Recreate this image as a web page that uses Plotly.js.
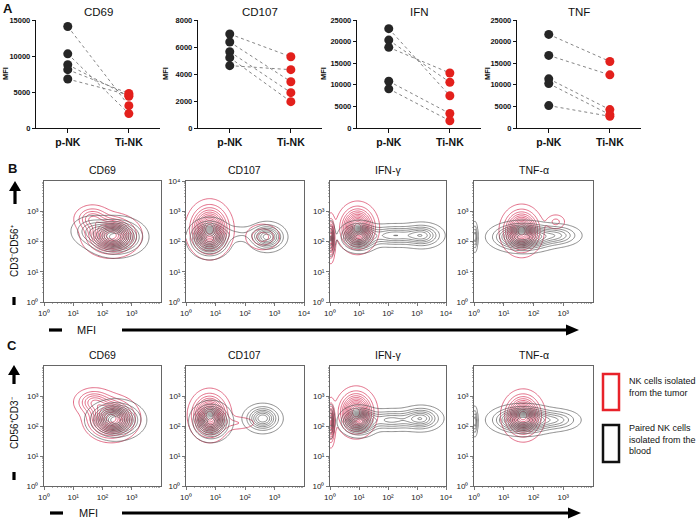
<!DOCTYPE html>
<html>
<head>
<meta charset="utf-8">
<script src="https://cdn.plot.ly/plotly-3.0.1.min.js"></script>
<style>html,body{margin:0;padding:0;background:#fff;}#chart{width:700px;height:524px;}</style>
</head>
<body>
<div id="chart"></div>
<script>
// ---------- Panel A data (MFI) ----------
const groups = ['p-NK', 'Ti-NK'];
const aTitles = ['CD69', 'CD107', 'IFN', 'TNF'];
const pNK_CD69  = [14100, 10300, 8800, 8100, 6800];
const tiNK_CD69 = [3100, 2000, 4400, 4800, 4600];
const pNK_CD107  = [6960, 6370, 5650, 5210, 4620];
const tiNK_CD107 = [5280, 3430, 2620, 1950, 4320];
const pNK_IFN  = [23000, 20350, 18670, 10820, 9070];
const tiNK_IFN = [7470, 10590, 12730, 3350, 1680];
const pNK_TNF  = [21670, 16800, 11380, 10290, 5190];
const tiNK_TNF = [15400, 12300, 4260, 3100, 2700];
const aMax = [15000, 8000, 25000, 25000];
const aStep = [5000, 2000, 5000, 5000];

// ---------- Panels B / C : density components (log10 x, log10 y, sd x, sd y, weight) ----------
const flowTitles = ['CD69', 'CD107', 'IFN-γ', 'TNF-α'];
const B_CD69_tumor  = [[2.3, 2.2, 0.42, 0.3, 1], [1.65, 2.75, 0.3, 0.22, 0.35]];
const B_CD69_blood  = [[2.45, 2.15, 0.45, 0.28, 1], [1.6, 2.35, 0.35, 0.25, 0.25]];
const B_CD107_tumor = [[0.8, 2.4, 0.33, 0.4, 1], [2.6, 2.15, 0.3, 0.22, 0.25]];
const B_CD107_blood = [[0.8, 2.1, 0.32, 0.28, 1], [2.75, 2.15, 0.3, 0.22, 0.65], [1.75, 2.25, 0.45, 0.15, 0.12]];
const B_IFN_tumor   = [[0.95, 2.45, 0.3, 0.35, 1], [0.03, 2.1, 0.07, 0.35, 0.7]];
const B_IFN_blood   = [[1.0, 2.15, 0.3, 0.22, 1], [2.2, 2.2, 0.55, 0.18, 0.45], [3.2, 2.2, 0.35, 0.2, 0.45], [0.03, 2.1, 0.07, 0.28, 0.4]];
const B_TNF_tumor   = [[1.6, 2.35, 0.3, 0.35, 1], [2.75, 2.65, 0.18, 0.14, 0.15]];
const B_TNF_blood   = [[1.65, 2.15, 0.5, 0.22, 1], [2.8, 2.2, 0.4, 0.18, 0.35], [0.03, 2.15, 0.05, 0.25, 0.35]];
const C_CD69_tumor  = [[2.3, 2.25, 0.4, 0.32, 1], [1.7, 2.8, 0.32, 0.22, 0.4]];
const C_CD69_blood  = [[2.45, 2.2, 0.42, 0.28, 1]];
const C_CD107_tumor = [[0.8, 2.35, 0.3, 0.36, 1], [1.7, 2.1, 0.4, 0.13, 0.12]];
const C_CD107_blood = [[0.85, 2.15, 0.3, 0.28, 1], [2.6, 2.25, 0.3, 0.22, 0.6]];
const C_IFN_tumor   = [[0.9, 2.45, 0.3, 0.35, 1], [0.03, 2.1, 0.07, 0.35, 0.7]];
const C_IFN_blood   = [[1.0, 2.15, 0.3, 0.22, 1], [2.1, 2.2, 0.5, 0.18, 0.4], [3.15, 2.25, 0.35, 0.2, 0.5], [0.03, 2.15, 0.06, 0.28, 0.35]];
const C_TNF_tumor   = [[1.65, 2.35, 0.3, 0.35, 1]];
const C_TNF_blood   = [[1.65, 2.2, 0.5, 0.22, 1], [2.8, 2.2, 0.4, 0.18, 0.3], [0.03, 2.15, 0.05, 0.25, 0.35]];
const xTickMaxB = [3, 4, 4, 3], yTickMaxB = [3, 4, 3, 3];
const xTickMaxC = [3, 3, 4, 3], yTickMaxC = [3, 3, 3, 3];

// ---------- helpers ----------
const W = 700, H = 524;
const px = v => v / W;
const py = v => 1 - v / H;
const FONT = 'Liberation Sans, Arial, sans-serif';
const RED = '#d62f55', GREY = '#505050';

const traces = [];
const layout = {
  width: W, height: H, margin: {l: 0, r: 0, t: 0, b: 0},
  paper_bgcolor: '#fff', plot_bgcolor: 'rgba(0,0,0,0)',
  showlegend: false, font: {family: FONT, color: '#111'},
  annotations: [], shapes: []
};
function ann(x, y, text, opts) {
  layout.annotations.push(Object.assign({xref: 'paper', yref: 'paper', x: px(x), y: py(y), text: text,
    showarrow: false, xanchor: 'center', yanchor: 'middle', font: {family: FONT, size: 10, color: '#111'}}, opts || {}));
}

// ---------- Panel A ----------
const aPNK = [pNK_CD69, pNK_CD107, pNK_IFN, pNK_TNF];
const aTI = [tiNK_CD69, tiNK_CD107, tiNK_IFN, tiNK_TNF];
const aX = [[36, 160], [198, 322], [357, 481], [517, 641]];
const aTop = 20, aBot = 128;
const aMfiX = [6, 166, 324, 488];
for (let i = 0; i < 4; i++) {
  const n = i + 1, xa = 'x' + n, ya = 'y' + n;
  const lx = [], ly = [];
  for (let k = 0; k < aPNK[i].length; k++) {
    lx.push(0, 1, null); ly.push(aPNK[i][k], aTI[i][k], null);
  }
  traces.push({type: 'scatter', mode: 'lines', x: lx, y: ly, xaxis: xa, yaxis: ya,
    line: {color: '#666', width: 0.8, dash: 'dot'}, hoverinfo: 'skip', cliponaxis: false});
  traces.push({type: 'scatter', mode: 'markers', x: aPNK[i].map(() => 0), y: aPNK[i], xaxis: xa, yaxis: ya,
    marker: {color: '#262626', size: 9}, cliponaxis: false});
  traces.push({type: 'scatter', mode: 'markers', x: aTI[i].map(() => 1), y: aTI[i], xaxis: xa, yaxis: ya,
    marker: {color: '#e3201c', size: 9}, cliponaxis: false});
  const tv = [];
  for (let v = 0; v <= aMax[i]; v += aStep[i]) tv.push(v);
  layout['xaxis' + n] = {domain: [px(aX[i][0]), px(aX[i][1])], anchor: ya, range: [-0.52, 1.51],
    tickvals: [0, 1], ticktext: groups, ticks: 'outside', ticklen: 4, tickwidth: 1, tickcolor: '#111',
    showline: true, linewidth: 1.2, linecolor: '#111', showgrid: false, zeroline: false,
    tickfont: {family: FONT, size: 10.5, weight: 'bold', color: '#111'}, fixedrange: true};
  layout['yaxis' + n] = {domain: [py(aBot), py(aTop)], anchor: xa, range: [0, aMax[i]],
    tickvals: tv, ticktext: tv.map(String), ticks: 'outside', ticklen: 3, tickwidth: 1, tickcolor: '#111',
    showline: true, linewidth: 1.2, linecolor: '#111', showgrid: false, zeroline: false,
    tickfont: {family: FONT, size: 7.5, weight: 'bold', color: '#111'}, fixedrange: true};
  ann((aX[i][0] + aX[i][1]) / 2, 12, aTitles[i], {font: {family: FONT, size: 11.5, color: '#111'}});
  ann(aMfiX[i], 74, 'MFI', {textangle: -90, font: {family: FONT, size: 7.5, weight: 'bold', color: '#111'}});
}
ann(8, 8, 'A', {font: {family: FONT, size: 13, weight: 'bold', color: '#111'}});

// ---------- Panels B / C ----------
const grid = [];
for (let g = 0; g <= 100; g++) grid.push(g * 0.04);
const gridVals = grid.map(g => Math.pow(10, g));
function density(blobs) {
  let mx = 0;
  const z = grid.map(y => grid.map(x => {
    let s = 0;
    for (const b of blobs) {
      const dx = (x - b[0]) / b[2], dy = (y - b[1]) / b[3];
      s += b[4] * Math.exp(-0.5 * (dx * dx + dy * dy));
    }
    if (s > mx) mx = s;
    return s;
  }));
  return z.map(r => r.map(v => v / mx));
}
const minorVals = [];
for (let d = 0; d < 4; d++) for (let k = 2; k <= 9; k++) minorVals.push(k * Math.pow(10, d));
const sup = ['⁰', '¹', '²', '³', '⁴'];
function decadeTicks(maxExp) {
  const v = [], t = [];
  for (let e = 0; e <= maxExp; e++) { v.push(Math.pow(10, e)); t.push('10' + sup[e]); }
  return {v, t};
}
const flowX = [[44, 161], [186, 304], [330, 446], [474, 593]];
const rows = [
  {top: 181, bot: 302, title: 170, tumor: [B_CD69_tumor, B_CD107_tumor, B_IFN_tumor, B_TNF_tumor],
   blood: [B_CD69_blood, B_CD107_blood, B_IFN_blood, B_TNF_blood], xm: xTickMaxB, ym: yTickMaxB},
  {top: 366, bot: 486, title: 355, tumor: [C_CD69_tumor, C_CD107_tumor, C_IFN_tumor, C_TNF_tumor],
   blood: [C_CD69_blood, C_CD107_blood, C_IFN_blood, C_TNF_blood], xm: xTickMaxC, ym: yTickMaxC}
];
rows.forEach((row, r) => {
  for (let i = 0; i < 4; i++) {
    const n = 5 + r * 4 + i, xa = 'x' + n, ya = 'y' + n;
    const common = {type: 'contour', x: gridVals, y: gridVals, xaxis: xa, yaxis: ya, showscale: false,
      hoverinfo: 'skip', contours: {coloring: 'lines', start: 0.04, end: 0.96, size: 0.08}};
    traces.push(Object.assign({}, common, {z: density(row.tumor[i]), colorscale: [[0, RED], [1, RED]],
      line: {width: 0.7, smoothing: 1}}));
    traces.push(Object.assign({}, common, {z: density(row.blood[i]), colorscale: [[0, GREY], [1, GREY]],
      line: {width: 0.65, smoothing: 1}}));
    const xt = decadeTicks(row.xm[i]), yt = decadeTicks(row.ym[i]);
    const axBase = {type: 'log', range: [0, 4], showline: true, mirror: true, linewidth: 0.9, linecolor: '#555',
      showgrid: false, zeroline: false, ticks: 'outside', ticklen: 3, tickwidth: 0.8, tickcolor: '#555',
      tickfont: {family: FONT, size: 8, color: '#222'}, fixedrange: true,
      minor: {tickvals: minorVals, ticks: 'outside', ticklen: 1.5, tickwidth: 0.6, tickcolor: '#777', showgrid: false}};
    layout['xaxis' + n] = Object.assign({}, axBase, {domain: [px(flowX[i][0]), px(flowX[i][1])], anchor: ya,
      tickvals: xt.v, ticktext: xt.t});
    layout['yaxis' + n] = Object.assign({}, axBase, {domain: [py(row.bot), py(row.top)], anchor: xa,
      tickvals: yt.v, ticktext: yt.t});
    ann((flowX[i][0] + flowX[i][1]) / 2, row.title, flowTitles[i], {font: {family: FONT, size: 10.5, color: '#111'}});
  }
});

// ---------- panel labels, arrows, axis captions ----------
ann(12, 169, 'B', {font: {family: FONT, size: 13, weight: 'bold', color: '#111'}});
ann(12, 345, 'C', {font: {family: FONT, size: 13, weight: 'bold', color: '#111'}});
ann(15, 251, 'CD3⁻CD56⁺', {textangle: -90, font: {family: FONT, size: 10, color: '#111'}});
ann(14, 423, 'CD56⁺CD3⁻', {textangle: -90, font: {family: FONT, size: 10, color: '#111'}});
ann(86, 330, 'MFI', {font: {family: FONT, size: 11, color: '#111'}});
ann(88, 513, 'MFI', {font: {family: FONT, size: 11, color: '#111'}});

function pline(x0, y0, x1, y1, w, c) {
  layout.shapes.push({type: 'line', xref: 'paper', yref: 'paper', x0: px(x0), y0: py(y0), x1: px(x1), y1: py(y1),
    line: {color: c || '#000', width: w}});
}
function ppath(pts, c) {
  const d = 'M ' + pts.map(p => px(p[0]) + ' ' + py(p[1])).join(' L ') + ' Z';
  layout.shapes.push({type: 'path', xref: 'paper', yref: 'paper', path: d, fillcolor: c || '#000', line: {width: 0}});
}
// vertical arrows
pline(15, 204, 15, 189, 3.2); ppath([[9, 191], [21, 191], [15, 181]]);
pline(14, 384, 14, 373, 3.2); ppath([[8, 375], [20, 375], [14, 365]]);
// small vertical bars
pline(14, 297, 14, 305, 3.2);
pline(14, 472, 14, 480, 3.2);
// horizontal MFI arrows
pline(49, 330, 62, 330, 3.2); pline(122, 330, 570, 330, 3.2); ppath([[566, 324.5], [566, 335.5], [579, 330]]);
pline(50, 513, 63, 513, 3.2); pline(122, 513, 572, 513, 3.2); ppath([[568, 507.5], [568, 518.5], [581, 513]]);

// legend boxes
layout.shapes.push({type: 'rect', xref: 'paper', yref: 'paper', x0: px(603), x1: px(619), y0: py(410), y1: py(374),
  line: {color: '#e8222a', width: 2.5}});
layout.shapes.push({type: 'rect', xref: 'paper', yref: 'paper', x0: px(603), x1: px(619), y0: py(462), y1: py(425),
  line: {color: '#111', width: 2.5}});
ann(627, 387, 'NK cells isolated<br>from the tumor', {xanchor: 'left', align: 'left', font: {family: FONT, size: 9, color: '#111'}});
ann(627, 439, 'Paired NK cells<br>isolated from the<br>blood', {xanchor: 'left', align: 'left', font: {family: FONT, size: 9, color: '#111'}});

Plotly.newPlot('chart', traces, layout, {displayModeBar: false, staticPlot: true});
</script>
</body>
</html>
